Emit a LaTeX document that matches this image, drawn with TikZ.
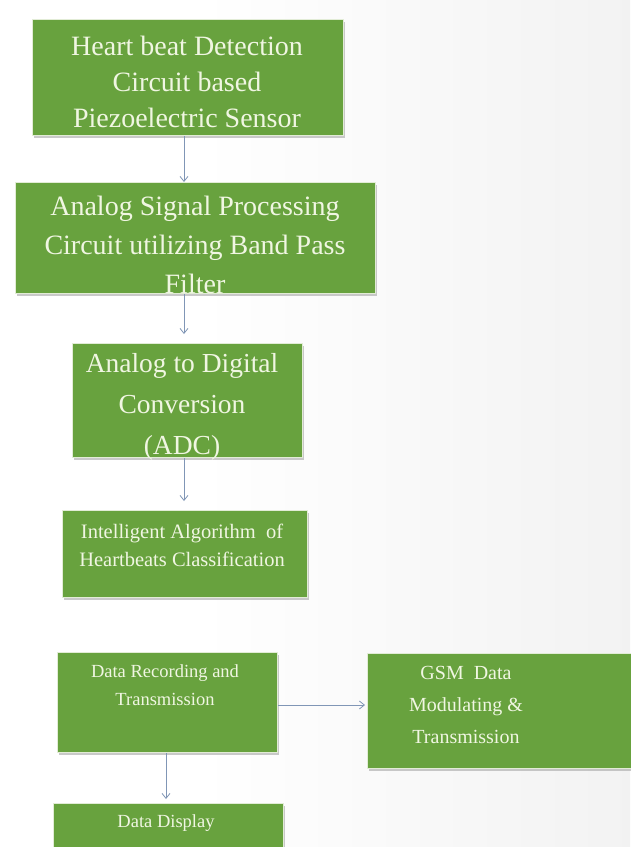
\documentclass[tikz,border=0pt]{standalone}
\usepackage{fontspec}
\setmainfont{Liberation Serif}
\usetikzlibrary{shadows,arrows.meta}
\definecolor{boxgreen}{RGB}{104,162,62}
\definecolor{boxedge}{RGB}{226,236,214}
\definecolor{boxtext}{RGB}{240,246,226}
\definecolor{linkblue}{RGB}{128,150,182}
\tikzset{
  stage/.style={rectangle, fill=boxgreen, draw=boxedge, line width=1.2pt,
    inner sep=0pt, anchor=north west,
    drop shadow={shadow xshift=1.5pt, shadow yshift=-2pt, fill=black!35, opacity=0.6}},
  caption/.style={text=boxtext, align=center, inner sep=0pt},
  big/.style={caption, font=\fontsize{28}{38}\selectfont},
  small/.style={caption, font=\fontsize{19}{28}\selectfont},
  link/.style={draw=linkblue, line width=0.8pt, -{Straight Barb[length=5pt,width=8pt]}},
}
\begin{document}
\begin{tikzpicture}[x=1pt,y=-1pt]
  % canvas with a faint grey wash toward the right edge
  \useasboundingbox (0,0) rectangle (630,847);
  \fill[white] (0,0) rectangle (630,847);
  \shade[left color=white, right color=black!5] (200,0) rectangle (630,847);

  % stage boxes
  \node[stage, minimum width=311, minimum height=116] (b1) at (32,19) {};
  \node[stage, minimum width=360, minimum height=111] (b2) at (15,182) {};
  \node[stage, minimum width=230, minimum height=114] (b3) at (72,343) {};
  \node[stage, minimum width=245, minimum height=87]  (b4) at (62,510) {};
  \node[stage, minimum width=220, minimum height=100] (b5) at (57,652) {};
  \node[stage, minimum width=264, minimum height=115] (b6) at (367,653) {};
  \node[stage, minimum width=230, minimum height=60]  (b7) at (53,803) {};

  % stage captions
  \node[big, font=\fontsize{28}{36}\selectfont] (t1) at (187,82) {Heart beat Detection\\Circuit based\\Piezoelectric Sensor};
  \node[big, font=\fontsize{28}{39}\selectfont] (t2) at (195,245) {Analog Signal Processing\\Circuit utilizing Band Pass\\Filter};
  \node[big, font=\fontsize{27.5}{41}\selectfont] (t3) at (182,407) {Analog to Digital\\Conversion\\(ADC)};
  \node[small, font=\fontsize{20.5}{28}\selectfont] (t4) at (182,545) {Intelligent Algorithm\ \ of\\Heartbeats Classification};
  \node[small, font=\fontsize{18.5}{28}\selectfont] (t5) at (165,685) {Data Recording and\\Transmission};
  \node[small, font=\fontsize{20}{32}\selectfont] (t6) at (466,705) {GSM\ \ Data\\Modulating \&\\Transmission};
  \node[small, font=\fontsize{18.5}{28}\selectfont] (t7) at (166,823) {Data Display};

  % connectors
  \coordinate (spine) at (184,0);
  \coordinate (side) at (166,0);
  \draw[link] (b1.south -| spine) -- (b2.north -| spine);
  \draw[link, shorten >=9pt] (b2.south -| spine) -- (b3.north -| spine);
  \draw[link, shorten >=9pt] (b3.south -| spine) -- (b4.north -| spine);
  \draw[link, shorten >=4pt] (b5.south -| side) -- (b7.north -| side);
  \draw[link, shorten >=2pt] (b5.east |- 0,705) -- (b6.west |- 0,705);
\end{tikzpicture}
\end{document}
